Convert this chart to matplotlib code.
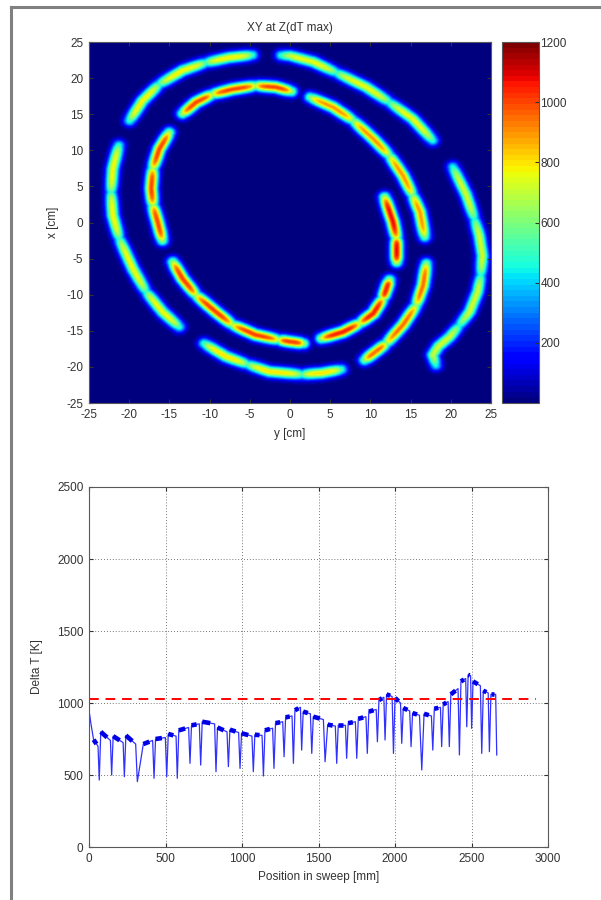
import numpy as np
import matplotlib
matplotlib.use('Agg')
import matplotlib.pyplot as plt
from matplotlib.lines import Line2D

plt.rcParams['font.family'] = ['Liberation Sans', 'DejaVu Sans']
plt.rcParams['font.size'] = 8.5
plt.rcParams['axes.unicode_minus'] = False

# ---------------- top panel: sweep path, points are (y [cm], x [cm]) ----------------
arc_1 = [(18.2, -19.8), (17.8, -18.4), (18.5, -17.2), (19.9, -15.9), (21.1, -14.3), (22.4, -12.4),
         (23.4, -9.6), (23.8, -7.3), (24.0, -4.6), (23.6, -1.8), (23.0, 0.5), (22.0, 3.8), (20.3, 7.7)]
arc_2 = [(17.8, 11.4), (15.3, 14.4), (12.4, 16.7), (9.5, 18.8), (5.8, 20.8), (2.9, 22.3),
         (0.0, 23.15), (-1.1, 23.2)]
arc_3 = [(-4.7, 23.25), (-7.6, 22.9), (-10.5, 22.2), (-13.4, 21.1), (-16.3, 19.2), (-18.4, 16.9),
         (-20.0, 14.15)]
arc_4 = [(-21.35, 10.7), (-22.1, 7.5), (-22.3, 4.2), (-22.1, 1.0), (-21.3, -2.2), (-19.6, -6.4),
         (-17.95, -9.6), (-15.9, -12.4), (-13.8, -14.5)]
arc_5 = [(-10.7, -16.8), (-8.0, -18.6), (-5.3, -19.7), (-2.6, -20.7), (1.5, -21.1), (4.0, -20.9),
         (6.4, -20.4)]
arc_6 = [(9.3, -19.1), (12.0, -16.8), (14.1, -14.2), (15.75, -11.5), (16.6, -8.7), (17.0, -5.7)]
arc_7 = [(16.8, -2.0), (16.2, 1.45), (15.3, 3.8), (14.1, 6.5), (12.4, 9.3), (10.4, 11.6),
         (7.9, 14.15), (5.4, 16.0), (2.5, 17.4)]
arc_8 = [(0.2, 18.2), (-1.8, 18.8), (-4.3, 19.0), (-7.2, 18.5), (-9.7, 17.8), (-11.7, 16.7),
         (-13.4, 15.1)]
arc_9 = [(-15.05, 12.5), (-16.3, 10.2), (-17.1, 7.5), (-17.3, 4.7), (-17.1, 2.4), (-16.5, 0.07),
         (-15.9, -2.5)]
arc_10 = [(-14.6, -5.5), (-13.4, -7.8), (-11.7, -10.1), (-9.25, -12.4), (-7.2, -14.2), (-4.3, -15.6),
          (-1.4, -16.3), (0.0, -16.55), (1.7, -16.8)]
arc_11 = [(3.9, -16.1), (6.6, -15.2), (8.7, -14.0), (10.4, -12.6), (11.6, -10.55), (12.4, -8.0)]
arc_12 = [(13.3, -5.5), (13.3, -2.2), (12.85, 0.07), (11.8, 3.5)]

arcs = [arc_1, arc_2, arc_3, arc_4, arc_5, arc_6, arc_7, arc_8, arc_9, arc_10, arc_11, arc_12]
arc_breaks = [[4, 7, 10], [2, 4], [2, 4], [2, 4, 6], [2, 4], [1, 3], [2, 4, 6], [2, 4], [2, 4],
              [2, 4, 6], [2, 4], [1]]
arc_peak = [720, 760, 780, 770, 800, 950, 900, 1000, 1000, 1010, 1050, 1080]

cbar_ticks = [200, 400, 600, 800, 1000, 1200]
xy_ticks = [-25, -20, -15, -10, -5, 0, 5, 10, 15, 20, 25]

# ---------------- bottom panel: Delta T along the sweep ----------------
lead_x = [0, 12]
lead_y = [950, 860]
plat_x0 = [30, 77, 158, 241, 355, 435, 518, 587, 670, 740, 840, 921, 997, 1084, 1150, 1219, 1285,
           1346, 1400, 1466, 1560, 1629, 1694, 1760, 1829, 1895, 1945, 2000, 2054, 2115, 2190, 2257,
           2315, 2365, 2431, 2478, 2510, 2577, 2627]
plat_x1 = [59, 140, 223, 305, 416, 499, 569, 651, 721, 821, 902, 978, 1065, 1131, 1200, 1266, 1327,
           1382, 1447, 1532, 1610, 1676, 1741, 1810, 1877, 1927, 1981, 2036, 2096, 2160, 2238, 2297,
           2347, 2412, 2462, 2494, 2558, 2609, 2658]
plat_y0 = [745, 800, 770, 775, 715, 750, 785, 810, 845, 870, 830, 815, 790, 780, 810, 860, 900,
           950, 940, 905, 850, 845, 860, 890, 940, 1020, 1060, 1035, 965, 930, 925, 960,
           990, 1060, 1150, 1195, 1150, 1085, 1060]
plat_y1 = [700, 740, 725, 715, 740, 760, 770, 830, 855, 855, 800, 795, 770, 775, 825, 870, 910,
           970, 925, 885, 840, 845, 870, 905, 955, 1040, 1045, 1000, 945, 915, 910, 970,
           1010, 1100, 1170, 1190, 1120, 1070, 1060]
dip_x = [67, 148, 231, 316, 425, 508, 577, 660, 730, 830, 911, 987, 1074, 1140, 1209, 1275, 1336,
         1390, 1456, 1543, 1619, 1684, 1750, 1819, 1885, 1935, 1990, 2044, 2105, 2175, 2247, 2305,
         2355, 2421, 2469, 2501, 2567, 2617, 2665]
dip_y = [465, 500, 488, 454, 477, 488, 477, 581, 569, 523, 558, 546, 523, 493, 546, 627, 581,
         673, 650, 592, 581, 616, 616, 650, 731, 743, 650, 720, 697, 535, 673, 697,
         697, 639, 835, 824, 650, 662, 639]
limit_dT = 1025
limit_x = [0, 2920]


def tube_field(H, V, sigma=0.56):
    field = np.zeros_like(H)
    for pts, brk, peak in zip(arcs, arc_breaks, arc_peak):
        pts = np.asarray(pts, float)
        cuts = [0] + list(brk) + [len(pts) - 1]
        for a, b in zip(cuts[:-1], cuts[1:]):
            dash = pts[a:b + 1]
            seg = np.diff(dash, axis=0)
            seglen = np.hypot(seg[:, 0], seg[:, 1])
            cum = np.concatenate([[0], np.cumsum(seglen)])
            best_d = np.full(H.shape, np.inf)
            best_s = np.zeros(H.shape)
            for k in range(len(seg)):
                px = H - dash[k, 0]
                py = V - dash[k, 1]
                t = np.clip((px * seg[k, 0] + py * seg[k, 1]) / seglen[k] ** 2, 0, 1)
                d = np.hypot(px - t * seg[k, 0], py - t * seg[k, 1])
                m = d < best_d
                best_d[m] = d[m]
                best_s[m] = cum[k] + t[m] * seglen[k]
            u = best_s / cum[-1]
            w = 1 - 0.35 * np.abs(2 * u - 1) ** 4
            field = np.maximum(field, peak * w * np.exp(-best_d ** 2 / (2 * sigma ** 2)))
    return field


fig = plt.figure(figsize=(6.01, 9.0), dpi=100)
W, Hf = 601.0, 900.0

# window frame
fig.add_artist(Line2D([11 / W, 11 / W], [0, 1 - 7 / Hf], transform=fig.transFigure, color='0.5', lw=2.2))
fig.add_artist(Line2D([11 / W, 1], [1 - 7 / Hf, 1 - 7 / Hf], transform=fig.transFigure, color='0.5', lw=2.2))

spine_col = '0.35'

# ---- top
ax1 = fig.add_axes([89 / W, 1 - 403 / Hf, 402 / W, 361 / Hf])
g = np.linspace(-25, 25, 400)
GY, GX = np.meshgrid(g, g)
field = tube_field(GY, GX)
cmap = plt.get_cmap('jet', 64)
im = ax1.imshow(field, extent=[-25, 25, -25, 25], origin='lower', cmap=cmap, vmin=0, vmax=1200,
                aspect='auto', interpolation='bilinear')
ax1.set_xticks(xy_ticks)
ax1.set_yticks(xy_ticks)
ax1.set_xlim(-25, 25)
ax1.set_ylim(-25, 25)
ax1.tick_params(direction='in', length=3, pad=4, top=True, right=True, colors='0.2')
for s in ax1.spines.values():
    s.set_color(spine_col)
    s.set_linewidth(0.8)
ax1.set_xlabel('y [cm]', color='0.2')
ax1.set_ylabel('x [cm]', color='0.2')
ax1.xaxis.set_label_coords(0.5, -0.068)
ax1.yaxis.set_label_coords(-0.075, 0.5)
fig.text(0.5 * (89 + 491) / W, 1 - 28 / Hf, 'XY at Z(dT max)', ha='center', va='center', color='0.2')

cax = fig.add_axes([502 / W, 1 - 403 / Hf, 37 / W, 361 / Hf])
cb = fig.colorbar(im, cax=cax, ticks=cbar_ticks)
cb.outline.set_edgecolor(spine_col)
cb.outline.set_linewidth(0.8)
cax.tick_params(direction='in', length=3, pad=1, colors='0.2')

# ---- bottom
ax2 = fig.add_axes([89 / W, 1 - 847 / Hf, 459 / W, 360 / Hf])
xs = list(lead_x)
ys = list(lead_y)
for k in range(len(plat_x0)):
    xs += [plat_x0[k], plat_x1[k], dip_x[k]]
    ys += [plat_y0[k], plat_y1[k], dip_y[k]]
ax2.plot(xs, ys, color='#3030ff', lw=0.9)
# dense (thick) part at the start of each plateau
for k in range(len(plat_x0)):
    xe = plat_x0[k] + 0.65 * (plat_x1[k] - plat_x0[k])
    ye = plat_y0[k] + 0.65 * (plat_y1[k] - plat_y0[k])
    ax2.plot([plat_x0[k], xe], [plat_y0[k], ye], color='#0000e6', lw=3.3, solid_capstyle='butt')
ax2.plot(limit_x, [limit_dT, limit_dT], color='red', lw=1.4, dashes=(5, 3.5))
ax2.set_xlim(0, 3000)
ax2.set_ylim(0, 2500)
ax2.set_xticks([0, 500, 1000, 1500, 2000, 2500, 3000])
ax2.set_yticks([0, 500, 1000, 1500, 2000, 2500])
ax2.grid(True, color='0.3', linestyle=(0, (1, 2.5)), lw=0.6)
ax2.tick_params(direction='in', length=3, pad=4, top=True, right=True, colors='0.2')
for s in ax2.spines.values():
    s.set_color(spine_col)
    s.set_linewidth(0.8)
ax2.set_xlabel('Position in sweep [mm]', color='0.2')
ax2.set_ylabel('Delta T [K]', color='0.2')
ax2.xaxis.set_label_coords(0.5, -0.068)
ax2.yaxis.set_label_coords(-0.1, 0.5)

fig.savefig('out.png', dpi=100, facecolor='white')
